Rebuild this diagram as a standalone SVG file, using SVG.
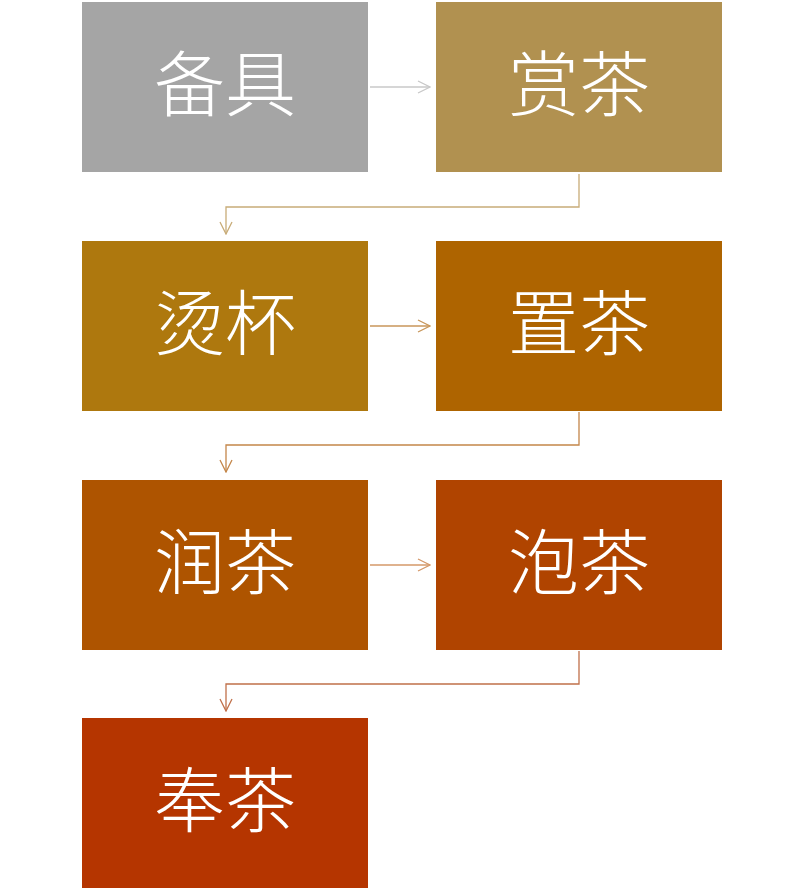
<svg xmlns="http://www.w3.org/2000/svg" width="804" height="896" viewBox="0 0 804 896">
<defs>
<style>
.box text{font-family:"Noto Sans CJK SC","Noto Sans",sans-serif;font-size:71px;font-weight:300;fill:#ffffff;text-anchor:middle}
.c{fill:none;stroke-width:1.3}
</style>
<marker id="ah" viewBox="0 0 14 14" refX="13" refY="7" markerWidth="14" markerHeight="14" markerUnits="userSpaceOnUse" orient="auto">
<path d="M1,1 L13,7 L1,13" fill="none" stroke="context-stroke" stroke-width="1.3"/>
</marker>
</defs>
<rect width="804" height="896" fill="#ffffff"/>
<g id="connectors">
<path class="c" d="M370,87 H430" stroke="#c8c8c8" marker-end="url(#ah)"/>
<path class="c" d="M579,174 V207 H226 V234" stroke="#c8ac78" marker-end="url(#ah)"/>
<path class="c" d="M370,326 H430" stroke="#c8965a" marker-end="url(#ah)"/>
<path class="c" d="M579,412 V445 H226 V472" stroke="#c4864a" marker-end="url(#ah)"/>
<path class="c" d="M370,565 H430" stroke="#d49868" marker-end="url(#ah)"/>
<path class="c" d="M579,651 V684 H226 V711" stroke="#c0704a" marker-end="url(#ah)"/>
</g>
<g id="n1" class="box"><rect x="82" y="2" width="286" height="170" fill="#a5a5a5"/><text x="225" y="110">备具</text></g>
<g id="n2" class="box"><rect x="436" y="2" width="286" height="170" fill="#b19150"/><text x="579" y="110">赏茶</text></g>
<g id="n3" class="box"><rect x="82" y="241" width="286" height="170" fill="#ae780e"/><text x="225" y="349">烫杯</text></g>
<g id="n4" class="box"><rect x="436" y="241" width="286" height="170" fill="#ae6400"/><text x="579" y="349">置茶</text></g>
<g id="n5" class="box"><rect x="82" y="480" width="286" height="170" fill="#ae5400"/><text x="225" y="588">润茶</text></g>
<g id="n6" class="box"><rect x="436" y="480" width="286" height="170" fill="#b04400"/><text x="579" y="588">泡茶</text></g>
<g id="n7" class="box"><rect x="82" y="718" width="286" height="170" fill="#b53500"/><text x="225" y="826">奉茶</text></g>
</svg>
